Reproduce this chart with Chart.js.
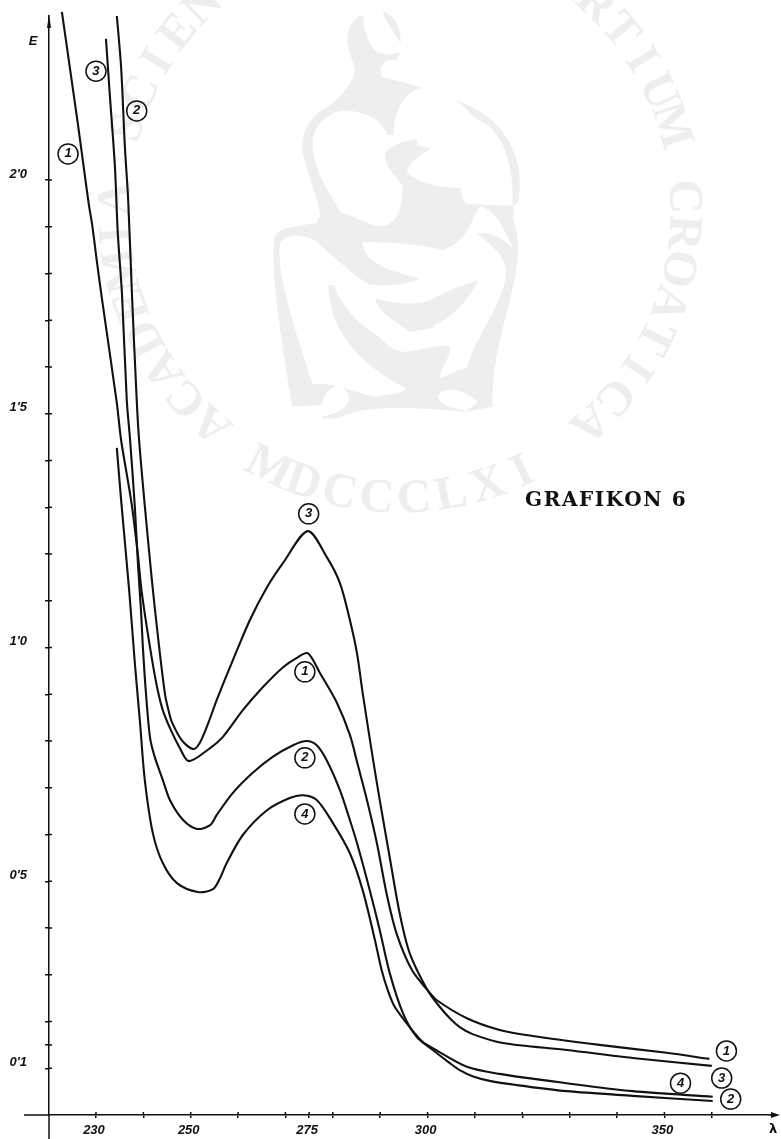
<!DOCTYPE html>
<html>
<head>
<meta charset="utf-8">
<title>Grafikon 6</title>
<script src="https://cdn.jsdelivr.net/npm/chart.js@4/dist/chart.umd.min.js"></script>
<style>
    html, body { margin: 0; padding: 0; background: #fff; }
    canvas { display: block; }
</style>
</head>
<body>
<canvas id="grafikon" width="781" height="1139"></canvas>
<script>
// values: wavelength (lambda) and extinction (E), named by the label at each peak
const curve1Lambda = [222.8, 224.7, 226.2, 227.5, 228.5, 229.2, 230.2, 231.3, 234.4, 235.3, 237.5, 238.9, 239.6, 241.4, 242.9, 244.1, 245.6, 247.7, 249.6, 254.1, 256.8, 261.0, 265.2, 269.5, 272.4, 274.7, 277.3, 280.8, 283.6, 285.3, 287.2, 289.3, 291.4, 293.5, 296.7, 300.0, 301.9, 308.3, 315.2, 322.2, 336.3, 350.5, 359.5];
const curve1E = [2.36, 2.225, 2.118, 2.021, 1.947, 1.904, 1.825, 1.743, 1.523, 1.444, 1.309, 1.194, 1.123, 1.001, 0.915, 0.866, 0.828, 0.785, 0.757, 0.785, 0.809, 0.866, 0.915, 0.958, 0.978, 0.988, 0.945, 0.883, 0.813, 0.748, 0.674, 0.582, 0.471, 0.387, 0.31, 0.267, 0.246, 0.207, 0.182, 0.169, 0.15, 0.133, 0.12];

const curve2Lambda = [232.1, 233.0, 234.0, 234.6, 235.5, 236.5, 237.2, 238.2, 238.9, 239.5, 239.9, 240.5, 241.4, 242.4, 244.1, 245.6, 248.4, 251.3, 254.1, 255.5, 258.9, 263.1, 267.3, 271.6, 274.5, 276.6, 278.7, 281.5, 283.6, 285.1, 287.8, 289.9, 292.0, 294.8, 297.7, 301.1, 304.7, 306.8, 309.5, 313.1, 318.8, 329.4, 343.3, 360.2];
const curve2E = [2.302, 2.171, 2.028, 1.887, 1.754, 1.529, 1.444, 1.301, 1.172, 1.08, 1.001, 0.909, 0.808, 0.766, 0.717, 0.674, 0.631, 0.612, 0.62, 0.642, 0.689, 0.732, 0.766, 0.791, 0.8, 0.791, 0.759, 0.695, 0.631, 0.582, 0.481, 0.396, 0.304, 0.218, 0.167, 0.139, 0.111, 0.096, 0.083, 0.073, 0.064, 0.051, 0.041, 0.03];

const curve3Lambda = [234.4, 235.3, 236.1, 236.8, 237.6, 238.6, 239.1, 240.2, 241.8, 243.1, 244.6, 245.4, 246.0, 248.1, 250.5, 251.9, 253.8, 255.5, 258.9, 262.5, 266.1, 269.5, 274.7, 278.7, 281.5, 283.6, 285.1, 286.3, 288.4, 289.9, 292.0, 294.1, 296.2, 300.0, 302.6, 304.7, 306.8, 309.5, 315.9, 329.4, 343.3, 360.0];
const curve3E = [2.351, 2.242, 2.071, 1.957, 1.754, 1.529, 1.444, 1.315, 1.144, 1.022, 0.898, 0.862, 0.841, 0.802, 0.783, 0.796, 0.841, 0.888, 0.973, 1.059, 1.129, 1.181, 1.249, 1.194, 1.138, 1.059, 0.988, 0.903, 0.766, 0.674, 0.552, 0.432, 0.347, 0.267, 0.231, 0.207, 0.188, 0.173, 0.154, 0.139, 0.122, 0.105];

const curve4Lambda = [234.4, 235.3, 237.0, 238.2, 239.3, 240.3, 242.0, 244.1, 247.1, 251.5, 254.7, 256.2, 257.6, 261.0, 266.1, 270.9, 273.7, 276.6, 280.0, 283.6, 286.3, 288.9, 290.3, 291.6, 293.1, 296.7, 299.0, 301.1, 308.3, 315.2, 329.4, 343.3, 360.2];
const curve4E = [1.427, 1.316, 1.123, 0.967, 0.839, 0.717, 0.603, 0.539, 0.496, 0.477, 0.483, 0.507, 0.539, 0.599, 0.652, 0.678, 0.684, 0.674, 0.625, 0.56, 0.481, 0.374, 0.31, 0.267, 0.231, 0.182, 0.156, 0.143, 0.103, 0.088, 0.068, 0.051, 0.039];

// circled curve numbers
const calloutText = ['1', '3', '2', '3', '1', '2', '4', '1', '3', '2', '4'];
const calloutLambda = [224.1, 230.0, 238.6, 274.9, 274.1, 274.1, 274.1, 363.1, 362.1, 364.0, 353.4];
const calloutE = [2.056, 2.233, 2.148, 1.286, 0.948, 0.764, 0.644, 0.137, 0.079, 0.034, 0.068];

const xTickValues = [230, 240, 250, 260, 270, 275, 280, 290, 300, 310, 320, 330, 340, 350, 360];
const xLabelValues = [230, 250, 275, 300, 350];
const yTickValues = [0.1, 0.15, 0.2, 0.3, 0.4, 0.5, 0.6, 0.7, 0.8, 0.9, 1.0, 1.1, 1.2, 1.3, 1.4, 1.5, 1.6, 1.7, 1.8, 1.9, 2.0];
const yLabelValues = [0.1, 0.5, 1.0, 1.5, 2.0];
const yLabelTexts = ["0'1", "0'5", "1'0", "1'5", "2'0"];

const INK = '#111111';
const PALE = '#eeeeee';

function points(xs, ys) {
    return xs.map((x, i) => ({ x: x, y: ys[i] }));
}

function curve(label, xs, ys) {
    return {
        label: label,
        data: points(xs, ys),
        showLine: true,
        borderColor: INK,
        borderWidth: 2.1,
        pointRadius: 0,
        tension: 0.3,
        clip: false
    };
}

function traceFigure(ctx, path) {
    ctx.fill(new Path2D(path));
}

// the academy seal printed faintly behind the chart
const sealPlugin = {
    id: 'seal',
    beforeDraw(chart) {
        const ctx = chart.ctx;
        ctx.save();
        ctx.fillStyle = '#ffffff';
        ctx.fillRect(0, 0, chart.width, chart.height);

        ctx.fillStyle = PALE;
        ctx.font = 'bold 48px "Liberation Serif"';
        ctx.textAlign = 'center';
        ctx.textBaseline = 'middle';
        const motto = 'ACADEMIA SCIENTIARUM ET ARTIUM CROATICA';
        const cx = 400, cy = 210;
        [...motto].forEach((ch, i) => {
            const a = (131.3 + i * 7.29) * Math.PI / 180;
            ctx.save();
            ctx.translate(cx + 283 * Math.cos(a), cy + 283 * Math.sin(a));
            ctx.rotate(a + Math.PI / 2);
            ctx.fillText(ch, 0, 0);
            ctx.restore();
        });
        [...'MDCCCLXI'].forEach((ch, i) => {
            const a = (117 - i * 7.45) * Math.PI / 180;
            ctx.save();
            ctx.translate(cx + 290 * Math.cos(a), cy + 290 * Math.sin(a));
            ctx.rotate(a - Math.PI / 2);
            ctx.fillText(ch, 0, 0);
            ctx.restore();
        });

        ctx.translate(130, 0);
        ctx.scale(1 / 3, 1 / 3);
        traceFigure(ctx, 'M700,45 C660,55 650,100 652,125 C655,160 675,190 675,215 C660,270 600,320 590,322 C540,350 517,390 517,440 C520,500 570,600 570,650 L560,670 C510,675 460,685 445,695 L433,710 C425,830 440,930 487,1220 L575,1215 L575,1255 C610,1260 640,1250 660,1240 C740,1215 880,1225 1010,1235 L1088,1220 C1085,1100 1110,1020 1140,900 C1170,780 1170,720 1150,660 L1150,617 L1165,605 C1180,520 1160,440 1100,375 C1040,310 900,265 755,230 L750,205 L770,180 L800,180 L810,158 C780,165 740,170 720,130 C705,100 700,70 700,45 Z');
        traceFigure(ctx, 'M757,35 C790,40 815,80 812,130 C800,110 765,60 757,35 Z');
        ctx.fillStyle = '#ffffff';
        traceFigure(ctx, 'M640,332 C590,335 548,380 548,430 C548,500 590,570 615,605 L630,635 C680,650 720,680 760,678 C800,670 820,620 818,555 C790,525 765,495 765,465 C770,440 830,420 860,418 L862,437 L905,445 C870,465 830,490 832,520 C870,550 930,565 990,563 C995,585 1000,600 1010,612 L1148,617 C1150,500 1130,390 1028,350 C1000,310 950,270 880,263 C820,270 790,340 792,405 L772,405 C760,360 700,330 640,332 Z');
        traceFigure(ctx, 'M1050,618 C1025,650 1020,720 940,750 C880,735 800,725 697,727 C705,790 770,810 868,835 C860,850 780,860 720,855 C650,810 600,760 560,725 C530,705 470,695 450,730 C440,800 470,920 548,1152 C620,1145 700,1190 745,1190 C780,1180 810,1185 830,1165 C760,1130 600,1040 595,855 L610,855 C640,930 700,980 740,1005 C770,1030 790,1060 830,1055 C880,1050 930,1030 960,1040 C965,1070 930,1100 930,1135 L1012,1100 C1040,1000 1130,900 1128,810 C1125,770 1080,730 1040,700 C1090,695 1120,720 1150,745 C1120,690 1110,640 1050,618 Z');
        traceFigure(ctx, 'M575,1215 C585,1170 610,1155 630,1160 C660,1175 670,1200 640,1225 C620,1240 600,1245 575,1250 Z');
        traceFigure(ctx, 'M925,1185 C950,1155 1000,1170 1045,1205 L1010,1232 C980,1228 920,1215 925,1185 Z');
        ctx.fillStyle = PALE;
        traceFigure(ctx, 'M735,895 C800,915 870,915 900,900 C950,875 1000,850 1045,842 C1010,910 960,955 912,975 L912,983 L840,995 C790,960 745,940 735,895 Z');
        ctx.restore();
    }
};

// axis overshoot, arrows, crossing tick marks, circled numbers and the caption
const annotationPlugin = {
    id: 'annotations',
    afterDatasetsDraw(chart) {
        const ctx = chart.ctx;
        const area = chart.chartArea;
        const xScale = chart.scales.x;
        const yScale = chart.scales.y;
        ctx.save();
        ctx.strokeStyle = INK;
        ctx.fillStyle = INK;
        ctx.lineWidth = 1.5;

        ctx.beginPath();
        ctx.moveTo(24, area.bottom);
        ctx.lineTo(area.left, area.bottom);
        ctx.moveTo(area.right, area.bottom);
        ctx.lineTo(775, area.bottom);
        ctx.moveTo(area.left, area.bottom);
        ctx.lineTo(area.left, chart.height);
        xScale.ticks.forEach(t => {
            const px = xScale.getPixelForValue(t.value);
            ctx.moveTo(px, area.bottom);
            ctx.lineTo(px, area.bottom - 3);
        });
        yScale.ticks.forEach(t => {
            const py = yScale.getPixelForValue(t.value);
            ctx.moveTo(area.left, py);
            ctx.lineTo(area.left + 3, py);
        });
        ctx.stroke();

        ctx.beginPath();
        ctx.moveTo(780, area.bottom);
        ctx.lineTo(771, area.bottom - 3);
        ctx.lineTo(771, area.bottom + 3);
        ctx.closePath();
        ctx.moveTo(area.left, area.top - 2);
        ctx.lineTo(area.left - 2, area.top + 12);
        ctx.lineTo(area.left + 2, area.top + 12);
        ctx.closePath();
        ctx.fill();

        ctx.textAlign = 'center';
        ctx.textBaseline = 'middle';
        ctx.font = 'italic bold 13px "Liberation Sans"';
        chart.getDatasetMeta(4).data.forEach((el, i) => {
            ctx.fillText(calloutText[i], el.x, el.y);
        });
        ctx.fillText('E', 33, 41);
        ctx.font = 'bold 13px "DejaVu Sans"';
        ctx.fillText('λ', 773, 1130);

        ctx.textAlign = 'left';
        ctx.font = 'bold 20px "DejaVu Serif"';
        ctx.letterSpacing = '1.6px';
        ctx.fillText('GRAFIKON 6', 525, 501);
        ctx.restore();
    }
};

new Chart(document.getElementById('grafikon').getContext('2d'), {
    type: 'scatter',
    data: {
        datasets: [
            curve('1', curve1Lambda, curve1E),
            curve('2', curve2Lambda, curve2E),
            curve('3', curve3Lambda, curve3E),
            curve('4', curve4Lambda, curve4E),
            {
                label: 'brojevi',
                data: points(calloutLambda, calloutE),
                pointRadius: 10,
                pointBorderWidth: 1.5,
                pointBorderColor: INK,
                pointBackgroundColor: 'rgba(255,255,255,0)',
                showLine: false,
                clip: false
            }
        ]
    },
    options: {
        responsive: false,
        animation: false,
        layout: { padding: { top: 16, right: 2, left: 0, bottom: 0 } },
        plugins: { legend: { display: false }, tooltip: { enabled: false }, title: { display: false } },
        scales: {
            x: {
                type: 'linear',
                position: 'bottom',
                min: 220.08,
                max: 372.19,
                afterFit(scale) {
                    scale.height = 24;
                    scale.paddingLeft = 0;
                    scale.paddingRight = 0;
                },
                afterBuildTicks(scale) { scale.ticks = xTickValues.map(v => ({ value: v })); },
                border: { display: true, color: INK, width: 1.5 },
                grid: { drawOnChartArea: false, color: INK, lineWidth: 1.5, tickLength: 3 },
                ticks: {
                    autoSkip: false,
                    maxRotation: 0,
                    padding: 5,
                    labelOffset: -2,
                    color: INK,
                    font: { family: 'Liberation Sans', size: 13, style: 'italic', weight: 'bold' },
                    callback: v => xLabelValues.includes(v) ? String(v) : ''
                }
            },
            y: {
                type: 'linear',
                position: 'left',
                min: 0,
                max: 2.351,
                afterFit(scale) {
                    scale.width = 49;
                    scale.paddingTop = 0;
                    scale.paddingBottom = 0;
                },
                afterBuildTicks(scale) { scale.ticks = yTickValues.map(v => ({ value: v })); },
                border: { display: true, color: INK, width: 1.5 },
                grid: { drawOnChartArea: false, color: INK, lineWidth: 1.5, tickLength: 4 },
                ticks: {
                    autoSkip: false,
                    padding: 18,
                    labelOffset: -6,
                    color: INK,
                    font: { family: 'Liberation Sans', size: 13, style: 'italic', weight: 'bold' },
                    callback: v => {
                        const i = yLabelValues.indexOf(v);
                        return i >= 0 ? yLabelTexts[i] : '';
                    }
                }
            }
        }
    },
    plugins: [sealPlugin, annotationPlugin]
});
</script>
</body>
</html>
